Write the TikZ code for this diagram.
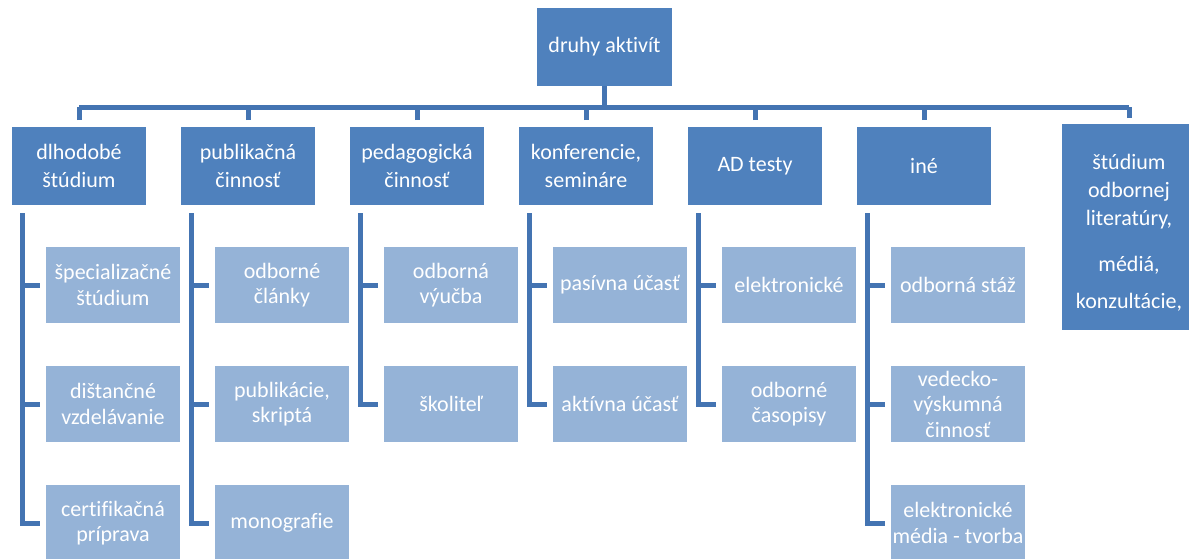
\documentclass[tikz,border=0pt]{standalone}
\usepackage{fontspec}
\setmainfont{Carlito}[Ligatures=NoCommon]
\usetikzlibrary{positioning,calc}
\definecolor{boxdark}{HTML}{4F81BD}
\definecolor{boxlight}{HTML}{95B3D7}
\definecolor{linkblue}{HTML}{4474B2}

\begin{document}
\begin{tikzpicture}[x=1pt,y=-1pt,font=\fontsize{22}{28}\selectfont,
  head/.style={fill=boxdark,text=white,align=center,minimum width=134pt,minimum height=78pt,inner sep=0pt,outer sep=0pt},
  item/.style={fill=boxlight,text=white,align=center,minimum width=134pt,minimum height=76pt,inner sep=0pt,outer sep=0pt,font=\fontsize{22}{25.5}\selectfont},
  link/.style={draw=linkblue,line width=5pt}]
\useasboundingbox (0,0) rectangle (1189,558);
\node[head,minimum width=135pt] (root) at (604.5,47) {druhy aktivít};
\node[head] (dlh) at (79,166) {dlhodobé\\štúdium};
\node[head,right=35pt of dlh] (pub) {publikačná\\činnosť};
\node[head,right=35pt of pub] (ped) {pedagogická\\činnosť};
\node[head,right=35pt of ped] (konf) {konferencie,\\semináre};
\node[head,right=35pt of konf] (adt) {AD testy};
\node[head,right=35pt of adt] (ine) {iné};
\node[head,minimum height=206pt,anchor=north west] (samo) at (1062,124) {\rule{0pt}{26pt}štúdium\\odbornej\\literatúry,\\[18pt]médiá,\\[9pt]konzultácie,};
% second level
\node[item,below right=42pt and 34pt of dlh.south west] (dlh1) {špecializačné\\štúdium};
\node[item,below=43pt of dlh1] (dlh2) {dištančné\\vzdelávanie};
\node[item,below=43pt of dlh2] (dlh3) {certifikačná\\príprava};
\node[item,below right=42pt and 34pt of pub.south west] (pub1) {odborné\\články};
\node[item,below=43pt of pub1] (pub2) {publikácie,\\skriptá};
\node[item,below=43pt of pub2] (pub3) {monografie};
\node[item,below right=42pt and 34pt of ped.south west] (ped1) {odborná\\výučba};
\node[item,below=43pt of ped1] (ped2) {školiteľ};
\node[item,below right=42pt and 34pt of konf.south west] (konf1) {pasívna účasť};
\node[item,below=43pt of konf1] (konf2) {aktívna účasť};
\node[item,below right=42pt and 34pt of adt.south west] (adt1) {elektronické};
\node[item,below=43pt of adt1] (adt2) {odborné\\časopisy};
\node[item,below right=42pt and 34pt of ine.south west] (ine1) {odborná stáž};
\node[item,below=43pt of ine1] (ine2) {vedecko-\\výskumná\\činnosť};
\node[item,below=43pt of ine2] (ine3) {elektronické\\média - tvorba};
% connectors
\coordinate (bus) at (0,107);
\draw[link] (root.south) -- (root.south |- bus);
\draw[link] (dlh.north |- bus) -- (samo.north |- bus);
\foreach \n in {dlh,pub,ped,konf,adt,ine}
  \draw[link] ([yshift=7pt]\n.north) -- (\n.north |- bus);
\draw[link] ([yshift=6pt]samo.north) -- (samo.north |- bus);
\foreach \p/\k in {dlh/3,pub/3,ped/2,konf/2,adt/2,ine/3}{
  \coordinate (\p-top) at ([xshift=10pt,yshift=-8pt]\p.south west);
  \draw[link] (\p-top) |- ([xshift=-6pt]\p\k.west);
  \foreach \i in {1,...,\k}
    \draw[link] (\p-top |- \p\i.west) -- ([xshift=-6pt]\p\i.west);
}
\end{tikzpicture}
\end{document}
